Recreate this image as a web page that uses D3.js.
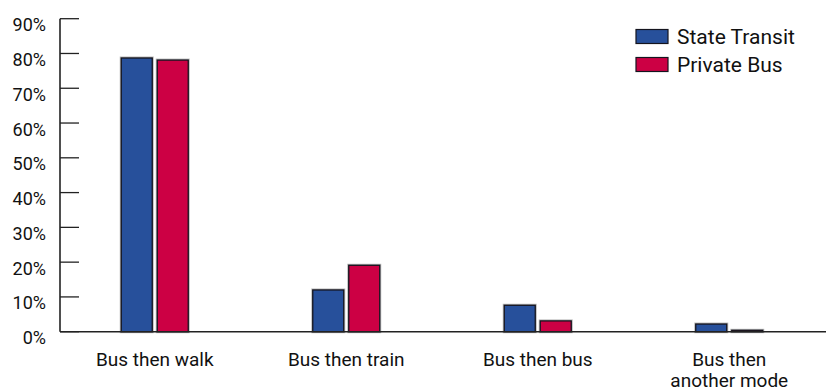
<!DOCTYPE html>
<html>
<head>
<meta charset="utf-8">
<script src="https://cdn.jsdelivr.net/npm/d3@7"></script>
<style>
  html, body { margin: 0; padding: 0; background: #fff; }
  svg { display: block; }
  text { font-family: "Liberation Sans Narrow", "Arial Narrow", "Roboto", sans-serif; fill: #111; }
</style>
</head>
<body>
<svg id="chart" width="833" height="392"></svg>
<script>
// Trip chaining by operator: share of trips for each onward mode
const categories = ["Bus then walk", "Bus then train", "Bus then bus", "Bus then\nanother mode"];
const seriesNames = ["State Transit", "Private Bus"];
const stateTransit = [78.7, 12.0, 7.6, 2.2];
const privateBus = [78.1, 19.1, 3.1, 0.4];
const yTicks = [0, 10, 20, 30, 40, 50, 60, 70, 80, 90];
const yTickLabels = ["0%", "10%", "20%", "30%", "40%", "50%", "60%", "70%", "80%", "90%"];
const colors = ["#27509b", "#cc0044"];

const svg = d3.select("#chart");
const x0 = 60, x1 = 826;
const yTop = 18.7, yBase = 331.7;

const x = d3.scaleBand().domain(categories).range([59, 825]).padding(0);
const y = d3.scaleLinear().domain([0, 90]).range([yBase, yTop]);

const barW = 31, gap = 5;
const series = [stateTransit, privateBus];

// y axis: line plus inward ticks
const axis = svg.append("g");
axis.append("line")
  .attr("x1", x0).attr("x2", x0)
  .attr("y1", y(90)).attr("y2", yBase)
  .attr("stroke", "#222").attr("stroke-width", 1.6);
axis.selectAll("line.tick").data(yTicks).join("line")
  .attr("class", "tick")
  .attr("x1", x0).attr("x2", x0 + 19)
  .attr("y1", d => y(d)).attr("y2", d => y(d))
  .attr("stroke", "#222").attr("stroke-width", 1.3);
axis.selectAll("text").data(yTicks).join("text")
  .attr("x", 46)
  .attr("y", d => y(d) + 12.5)
  .attr("text-anchor", "end")
  .attr("font-size", 18)
  .text((d, i) => yTickLabels[i]);

// bars: a soft grey halo under a dark outline
series.forEach((vals, s) => {
  const g = svg.append("g");
  const xOff = d => x(d) + x.bandwidth() / 2 + (s === 0 ? -gap / 2 - barW : gap / 2);
  g.selectAll("rect.halo").data(categories).join("rect")
    .attr("class", "halo")
    .attr("x", d => xOff(d))
    .attr("y", (d, i) => y(vals[i]))
    .attr("width", barW)
    .attr("height", (d, i) => yBase - y(vals[i]))
    .attr("fill", "none")
    .attr("stroke", "#b8b8b8").attr("stroke-width", 3);
  g.selectAll("rect.bar").data(categories).join("rect")
    .attr("class", "bar")
    .attr("x", d => xOff(d))
    .attr("y", (d, i) => y(vals[i]))
    .attr("width", barW)
    .attr("height", (d, i) => yBase - y(vals[i]))
    .attr("fill", colors[s])
    .attr("stroke", "#14141e").attr("stroke-width", 1.3);
});

// baseline
svg.append("line")
  .attr("x1", x0).attr("x2", x1)
  .attr("y1", yBase).attr("y2", yBase)
  .attr("stroke", "#222").attr("stroke-width", 1.6);

// category labels
const xl = svg.append("g");
categories.forEach(c => {
  const cx = x(c) + x.bandwidth() / 2;
  const t = xl.append("text")
    .attr("x", cx)
    .attr("y", 366)
    .attr("text-anchor", "middle")
    .attr("font-size", 19);
  c.split("\n").forEach((ln, i) => {
    t.append("tspan").attr("x", cx).attr("dy", i === 0 ? 0 : 21).text(ln);
  });
});

// legend
const lg = svg.append("g");
seriesNames.forEach((n, i) => {
  const yy = 29.5 + i * 28;
  lg.append("rect").attr("x", 636).attr("y", yy).attr("width", 32).attr("height", 14)
    .attr("fill", colors[i]).attr("stroke", "#14141e").attr("stroke-width", 1.2);
  lg.append("text").attr("x", 677).attr("y", yy + 14.5).attr("font-size", 21).text(n);
});
</script>
</body>
</html>
